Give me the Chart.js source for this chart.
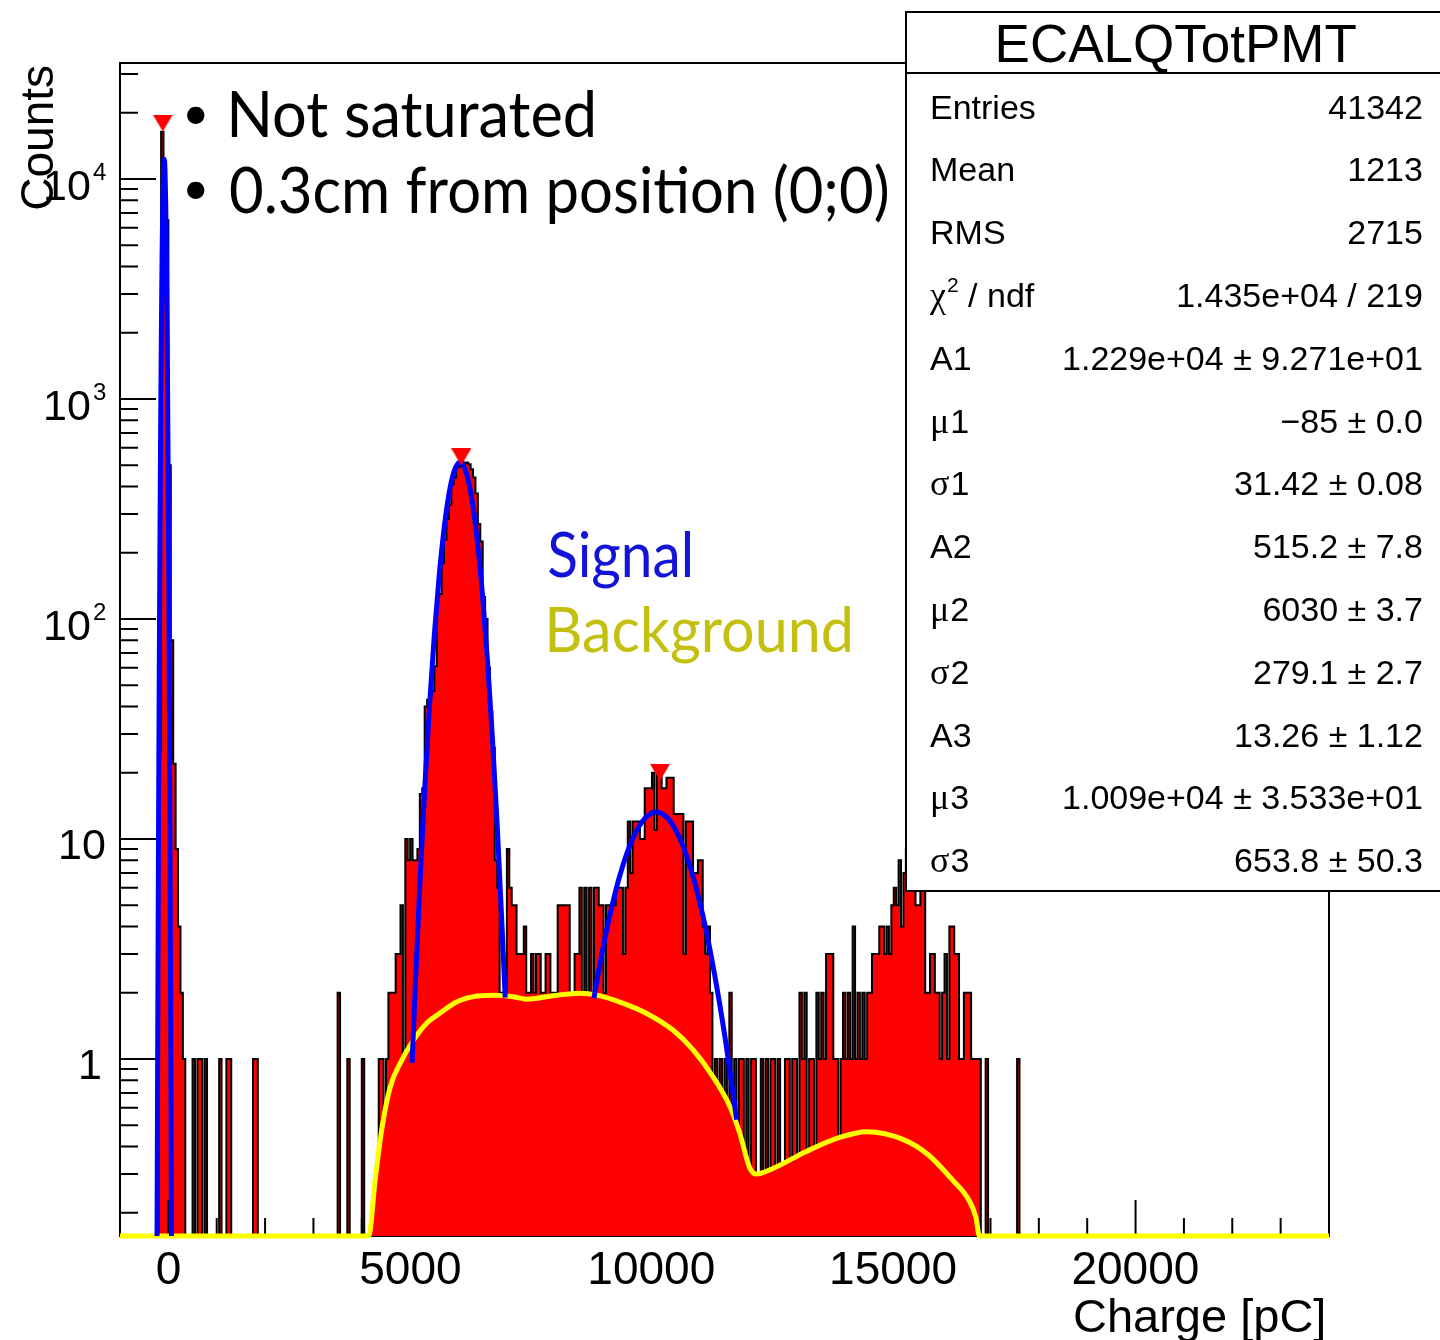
<!DOCTYPE html>
<html>
<head>
<meta charset="utf-8">
<script src="https://cdn.jsdelivr.net/npm/chart.js@4.4.1/dist/chart.umd.min.js"></script>
<style>
  html, body { margin: 0; padding: 0; background: #fff; }
  canvas { display: block; }
</style>
</head>
<body>
<canvas id="c" width="1440" height="1340"></canvas>
<script>
// ECALQTotPMT charge spectrum: 50 pC bins starting at -1000 pC
const histStart = -1000;
const histBinWidth = 50;
const histCounts = [
  // -1000 .. -50
  0,0,0,0,0, 0,0,0,0,0, 0,0,0,0,0, 0,25,16400,11000,6500,
  // 0 .. 950
  500,80,22,9,4, 2,1,0,0,0, 1,0,1,1,0, 1,0,0,0,0,
  // 1000 .. 1950
  0,1,0,0,1, 1,0,0,0,0, 0,0,0,0,0, 1,1,0,0,0,
  // 2000 .. 2950
  0,0,0,0,0, 0,0,0,0,0, 0,0,0,0,0, 0,0,0,0,0,
  // 3000 .. 3950
  0,0,0,0,0, 0,0,0,0,0, 2,0,0,0,1, 0,0,0,0,0,
  // 4000 .. 4950
  1,0,0,0,0, 0,0,1,1,0, 1,2,2,2,3, 3,5,1,10,8,
  // 5000 .. 5950
  10,8,8,9,16, 17,40,43,45,47, 61,126,130,180,230, 285,330,410,440,490,
  // 6000 .. 6950
  495,520,510,515,505, 480,440,372,270,225, 126,100,60,38,26, 8,6,2,2,2,
  // 7000 .. 7950
  9,6,5,5,3, 3,3,4,2,2, 3,2,3,3,2, 2,3,3,2,2,
  // 8000 .. 8950
  2,5,5,5,5, 5,2,2,3,3, 6,2,6,2,6, 2,6,6,5,5,
  // 9000 .. 9950
  2,5,5,5,5, 6,6,6,3,6, 12,7,12,12,12, 10,10,17,17,17,
  // 10000 .. 10950
  20,11,20,21,17, 17,19,19,19,13, 13,13,13,3,12, 12,12,7,7,8,
  // 11000 .. 11950
  8,4,3,4,2, 0,1,0,1,0, 1,0,2,0,1, 0,1,1,0,1,
  // 12000 .. 12950
  0,1,1,0,0, 1,0,1,0,1, 1,0,1,0,0, 1,1,0,1,1,
  // 13000 .. 13950
  0,2,1,2,0, 1,1,0,2,1, 2,1,3,3,3, 1,1,0,1,2,
  // 14000 .. 14950
  1,2,1,4,1, 2,1,2,1,2, 2,3,3,3,4, 4,3,4,3,5,
  // 15000 .. 15950
  6,5,8,4,7, 9,6,8,7,5, 5,7,6,2,2, 3,3,2,2,1,
  // 16000 .. 16950
  2,3,1,4,4, 3,3,1,1,2, 2,2,1,1,1, 1,0,0,1,0,
  // 17000 .. 17950
  0,0,0,0,0, 0,0,0,0,0, 0,1,0,0,0, 0,0,0,0,0
];

// Background function (yellow), sampled
const bkgX = [-1000, 4140, 4282, 4420, 4591, 4797, 5072, 5349, 5623, 5968, 6311, 6723, 7136, 7413, 7619,
              8032, 8513, 8858, 9407, 9890, 10439, 10851, 11264, 11609, 11815, 12022, 12160, 12502, 13192,
              13879, 14447, 15200, 15712, 16212, 16555, 16700, 16770, 24000];
const bkgY = [0, 0, 0.29, 0.49, 0.75, 0.96, 1.22, 1.46, 1.62, 1.82, 1.92, 1.95, 1.92, 1.87, 1.89,
              1.95, 1.99, 1.95, 1.79, 1.61, 1.35, 1.10, 0.83, 0.61, 0.46, 0.32, 0.30, 0.318, 0.38,
              0.44, 0.467, 0.43, 0.367, 0.282, 0.228, 0.19, 0, 0];

// Signal peaks (blue), sampled
const peak1X = [-250,-235,-220,-205,-190,-175,-160,-145,-130,-115,-100,-85,-70,-55,-40,-25,-10,5,20,35,50,65,80];
const peak1Y = [0.0126,0.138,1.21,8.37,46.2,203,711,1985,4406,7788,10966,12290,10966,7788,4406,1985,711,203,46.2,8.37,1.21,0.138,0.0126];
const peak2X = [5040,5100,5200,5300,5400,5500,5600,5700,5800,5900,6000,6030,6100,6200,6300,6400,6500,6600,6700,6800,6900,6965];
const peak2Y = [0.96,2.0,6.2,16.8,40.3,84.9,157,256,367,462,512,515,499,428,323,214,125,64,28.9,11.5,4.0,1.9];
const peak3X = [8800,8900,9000,9100,9200,9300,9400,9500,9600,9700,9800,9900,10000,10090,10200,10300,10400,10500,10600,10700,10800,10900,11000,11100,11200,11300,11400,11500,11600,11750];
const peak3Y = [1.89,2.53,3.30,4.22,5.25,6.39,7.60,8.83,10.0,11.1,12.0,12.7,13.14,13.26,13.07,12.6,11.86,10.9,9.78,8.58,7.35,6.16,5.03,4.02,3.14,2.39,1.78,1.30,0.92,0.53];

// Peak-finder markers
const markX = [-115, 6057, 10165];
const markY = [17970, 545, 20.1];

// Axis ticks
const xTickValues = [0, 5000, 10000, 15000, 20000];
const xTickLabels = ['0', '5000', '10000', '15000', '20000'];
const yTickValues = [1, 10, 100, 1000, 10000];
const yTickBase = ['1', '10', '10', '10', '10'];
const yTickExp = ['', '', '2', '3', '4'];

// Statistics box
const statTitle = 'ECALQTotPMT';
const statLabels = ['Entries', 'Mean', 'RMS', 'χ² / ndf', 'A1', 'μ1', 'σ1', 'A2', 'μ2', 'σ2', 'A3', 'μ3', 'σ3'];
const statValues = ['41342', '1213', '2715', '1.435e+04 / 219', '1.229e+04 ± 9.271e+01', '\u221285 ± 0.0',
                    '31.42 ± 0.08', '515.2 ± 7.8', '6030 ± 3.7', '279.1 ± 2.7', '13.26 ± 1.12',
                    '1.009e+04 ± 3.533e+01', '653.8 ± 50.3'];

// Notes
const noteLines = ['Not saturated', '0.3cm from position (0;0)'];
const legendWords = ['Signal', 'Background'];

const X_MIN = -1000, X_MAX = 24000;
const Y_MIN = 0.1568, Y_MAX = 33680;

const SANS = '"Liberation Sans", Arial, Helvetica, sans-serif';
const SERIF = '"Liberation Serif", "Times New Roman", serif';
const HUMAN = 'Lato, "Open Sans", sans-serif';

const floorZero = v => (v > 0 ? v : Y_MIN);

function histogramPoints() {
  const pts = histCounts.map((c, i) => ({ x: histStart + i * histBinWidth, y: floorZero(c) }));
  pts.push({ x: histStart + histCounts.length * histBinWidth, y: Y_MIN });
  pts.push({ x: X_MAX, y: Y_MIN });
  return pts;
}
const zip = (xs, ys) => xs.map((x, i) => ({ x, y: floorZero(ys[i]) }));

// Downward triangle marker
function triangleMarker() {
  const c = document.createElement('canvas');
  c.width = 20; c.height = 17;
  const g = c.getContext('2d');
  g.fillStyle = '#ff0000';
  g.beginPath(); g.moveTo(0, 0); g.lineTo(20, 0); g.lineTo(10, 17); g.closePath(); g.fill();
  return c;
}

// Text helper positioned by ink box
function inkText(ctx, str, font, color, o) {
  ctx.save();
  ctx.font = font;
  ctx.textAlign = 'left';
  ctx.textBaseline = 'alphabetic';
  const m = ctx.measureText(str);
  const inkW = m.actualBoundingBoxLeft + m.actualBoundingBoxRight;
  const sx = o.width ? o.width / inkW : 1;
  let left;
  if (o.left !== undefined) left = o.left;
  else if (o.right !== undefined) left = o.right - inkW * sx;
  else left = o.center - inkW * sx / 2;
  ctx.translate(left, o.y);
  ctx.scale(sx, 1);
  ctx.fillStyle = color;
  ctx.fillText(str, m.actualBoundingBoxLeft, 0);
  ctx.restore();
}

function bullet(ctx, cx, cy, d) {
  ctx.save();
  ctx.font = '80px ' + HUMAN;
  const m = ctx.measureText('•');
  const w = m.actualBoundingBoxLeft + m.actualBoundingBoxRight;
  const h = m.actualBoundingBoxAscent + m.actualBoundingBoxDescent;
  const s = d / w;
  ctx.translate(cx, cy);
  ctx.scale(s, s);
  ctx.fillStyle = '#000';
  ctx.textBaseline = 'alphabetic';
  ctx.fillText('•', -w / 2 + m.actualBoundingBoxLeft, h / 2 - m.actualBoundingBoxDescent);
  ctx.restore();
}

function statLabel(ctx, str, x, y) {
  ctx.save();
  ctx.fillStyle = '#000';
  ctx.textBaseline = 'alphabetic';
  ctx.textAlign = 'left';
  let cx = x;
  for (const ch of str) {
    if ('χμσ'.includes(ch)) {
      ctx.font = '36px ' + SERIF;
      ctx.fillText(ch, cx, y);
      cx += ctx.measureText(ch).width + 1;
    } else if (ch === '²') {
      ctx.font = '21px ' + SANS;
      ctx.fillText('2', cx, y - 15);
      cx += ctx.measureText('2').width;
    } else {
      ctx.font = '34px ' + SANS;
      ctx.fillText(ch, cx, y);
      cx += ctx.measureText(ch).width;
    }
  }
  ctx.restore();
}

const rootPlugin = {
  id: 'rootFrame',
  afterDatasetDraw(chart, args) {
    if (args.index !== 0) return;
    const { ctx, chartArea: a, scales: { x, y } } = chart;
    ctx.save();
    ctx.strokeStyle = '#000';
    ctx.lineWidth = 2;
    ctx.strokeRect(a.left, a.top, a.right - a.left, a.bottom - a.top);
    ctx.beginPath();
    for (let e = -1; e <= 4; e++) {
      for (let m = 1; m <= 9; m++) {
        const v = m * Math.pow(10, e);
        if (v < Y_MIN || v > Y_MAX) continue;
        const py = y.getPixelForValue(v);
        const len = m === 1 ? 36 : 18;
        ctx.moveTo(a.left, py);
        ctx.lineTo(a.left + len, py);
      }
    }
    for (let v = X_MIN; v <= X_MAX; v += 1000) {
      const px = x.getPixelForValue(v);
      const len = v % 5000 === 0 ? 36 : 18;
      ctx.moveTo(px, a.bottom);
      ctx.lineTo(px, a.bottom - len);
    }
    ctx.stroke();
    ctx.restore();
  },
  afterDraw(chart) {
    const { ctx, scales: { x, y } } = chart;

    // x tick labels
    xTickValues.forEach((v, i) => {
      inkText(ctx, xTickLabels[i], '46px ' + SANS, '#000', { center: x.getPixelForValue(v), y: 1284 });
    });
    // y tick labels
    yTickValues.forEach((v, i) => {
      const py = y.getPixelForValue(v);
      if (yTickExp[i]) {
        inkText(ctx, yTickBase[i], '43px ' + SANS, '#000', { right: 90, y: py + 21 });
        inkText(ctx, yTickExp[i], '24px ' + SANS, '#000', { right: 106, y: py + 1 });
      } else {
        inkText(ctx, yTickBase[i], '43px ' + SANS, '#000', { right: i === 0 ? 100 : 105, y: py + 20 });
      }
    });

    // axis titles
    inkText(ctx, 'Charge [pC]', '47px ' + SANS, '#000', { left: 1075, y: 1332 });
    ctx.save();
    ctx.translate(53, 65);
    ctx.rotate(-Math.PI / 2);
    ctx.font = '46px ' + SANS;
    ctx.fillStyle = '#000';
    ctx.textAlign = 'right';
    ctx.textBaseline = 'alphabetic';
    ctx.fillText('Counts', 0, 0);
    ctx.restore();

    // notes
    bullet(ctx, 196, 115, 18);
    bullet(ctx, 196, 190, 18);
    inkText(ctx, noteLines[0], '63px ' + HUMAN, '#000', { left: 231, y: 137, width: 362 });
    inkText(ctx, noteLines[1], '63px ' + HUMAN, '#000', { left: 230, y: 213, width: 657 });
    inkText(ctx, legendWords[0], '61px ' + HUMAN, '#1414d8', { left: 549, y: 577, width: 141 });
    inkText(ctx, legendWords[1], '61px ' + HUMAN, '#c4c010', { left: 549, y: 652, width: 301 });

    // statistics box
    ctx.save();
    ctx.fillStyle = '#fff';
    ctx.fillRect(906, 12, 560, 879);
    ctx.strokeStyle = '#000';
    ctx.lineWidth = 2;
    ctx.strokeRect(906, 12, 560, 879);
    ctx.beginPath();
    ctx.moveTo(906, 73);
    ctx.lineTo(1440, 73);
    ctx.stroke();
    ctx.restore();
    inkText(ctx, statTitle, '53px ' + SANS, '#000', { center: 1177.5, y: 62 });
    statLabels.forEach((lab, i) => {
      const by = 118.5 + i * 62.8;
      statLabel(ctx, lab, 930, by);
      inkText(ctx, statValues[i], '34px ' + SANS, '#000', { right: 1422, y: by });
    });
  }
};

function build() {
  const canvas = document.getElementById('c');
  new Chart(canvas, {
    type: 'line',
    data: {
      datasets: [
        { data: histogramPoints(), stepped: true, borderColor: '#000000', borderWidth: 2,
          backgroundColor: '#ff0000', fill: 'start', pointRadius: 0, order: 6 },
        { data: zip(bkgX, bkgY), borderColor: '#ffff00', borderWidth: 5, backgroundColor: '#ff0000',
          fill: 'start', pointRadius: 0, cubicInterpolationMode: 'monotone', order: 5,
          clip: { left: 0, top: 0, right: 0, bottom: 4 } },
        { data: zip(peak1X, peak1Y), borderColor: '#0000ff', borderWidth: 5, fill: false,
          pointRadius: 0, cubicInterpolationMode: 'monotone', order: 4 },
        { data: zip(peak2X, peak2Y), borderColor: '#0000ff', borderWidth: 5, fill: false,
          pointRadius: 0, cubicInterpolationMode: 'monotone', order: 3 },
        { data: zip(peak3X, peak3Y), borderColor: '#0000ff', borderWidth: 5, fill: false,
          pointRadius: 0, cubicInterpolationMode: 'monotone', order: 2 },
        { data: zip(markX, markY), showLine: false, pointStyle: triangleMarker(), pointRadius: 10, order: 1 }
      ]
    },
    options: {
      responsive: false,
      animation: false,
      devicePixelRatio: 1,
      events: [],
      layout: { padding: { left: 120, top: 63, right: 111, bottom: 104 } },
      scales: {
        x: { type: 'linear', min: X_MIN, max: X_MAX, display: false, bounds: 'data' },
        y: { type: 'logarithmic', min: Y_MIN, max: Y_MAX, display: false, bounds: 'data' }
      },
      plugins: { legend: { display: false }, tooltip: { enabled: false } }
    },
    plugins: [rootPlugin]
  });
}

const fontsNeeded = ['63px Lato', '34px "Liberation Sans"', '36px "Liberation Serif"'];
Promise.all(fontsNeeded.map(f => document.fonts.load(f))).then(build, build);
</script>
</body>
</html>
